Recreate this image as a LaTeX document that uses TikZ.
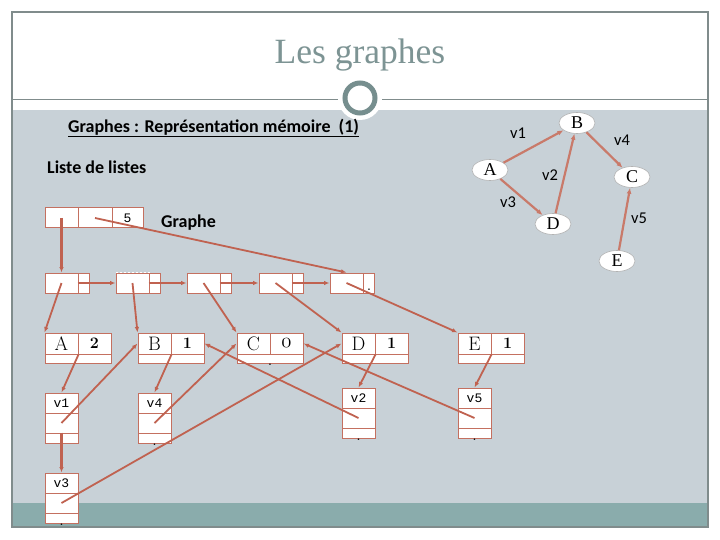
\documentclass[tikz,border=0pt]{standalone}
\usepackage{fontspec}
\newfontfamily\calib{Carlito}
\newfontfamily\tms{Liberation Serif}
\newfontfamily\cour{Liberation Mono}
\usetikzlibrary{arrows.meta,shapes.geometric}
\definecolor{bg}{RGB}{200,209,215}
\definecolor{band}{RGB}{138,172,172}
\definecolor{frm}{RGB}{128,140,140}
\definecolor{ttl}{RGB}{125,148,148}
\definecolor{ring}{RGB}{118,142,142}
\definecolor{lnk}{RGB}{192,98,80}
\definecolor{bx}{RGB}{196,112,96}
\newcommand{\osn}[1]{\ensuremath{\mathnormal{#1}}}
\newcommand{\dg}[1]{{\bfseries\fontsize{16}{16}\selectfont #1}}
\begin{document}
\begin{tikzpicture}[x=1pt,y=-1pt,
  cell/.style={draw=bx, line width=1pt, fill=white, inner sep=0pt,
    minimum width=33pt, minimum height=20pt, font=\fontsize{19.5}{19.5}\selectfont},
  ecell/.style={cell, font=\cour\fontsize{13}{13}\selectfont},
  dotn/.style={inner sep=0pt, anchor=base, font=\bfseries\fontsize{11}{11}\selectfont},
  conn/.style={draw=lnk, line width=1.8pt, -{Latex[length=5.5pt,width=4.5pt]}},
  vconn/.style={conn, line width=2.2pt},
  gv/.style={ellipse, draw=gray!60, line width=0.6pt, fill=white, inner sep=0pt,
    minimum width=36pt, minimum height=21pt, font=\tms\fontsize{18}{18}\selectfont},
  garr/.style={draw=lnk!85!white, line width=2.2pt, -{Latex[length=6pt,width=5pt]}},
  glab/.style={inner sep=0pt, font=\calib\fontsize{16.5}{16.5}\selectfont},
  hdr/.style={inner sep=0pt, anchor=west, font=\calib\bfseries\fontsize{18}{18}\selectfont}]
\useasboundingbox (0,0) rectangle (720,540);
% background and frame
\fill[white] (0,0) rectangle (720,540);
\fill[bg] (12,110) rectangle (708,503);
\fill[band] (12,503) rectangle (708,527);
\draw[frm, line width=1.2pt] (12,12) rectangle (708,527);
\draw[frm, line width=1pt] (12,100) -- (708,100);
\fill[white] (360,98) circle (22);
\fill[white] (360,98) circle (14);
\draw[ring, line width=5pt] (360,98) circle (15);
\node[font=\tms\fontsize{35.5}{35.5}\selectfont, text=ttl, inner sep=0pt] (title) at (360,55) {Les graphes};
% headers
\node[hdr] (h1) at (68,128) {\underline{Graphes : Représentation mémoire\ \ (1)}};
\node[hdr] (h2) at (47,167) {Liste de listes};
\node[hdr] (h3) at (161,223) {Graphe};
% graph
\node[gv] (gB) at (577,123) {B};
\node[gv] (gA) at (490,170) {A};
\node[gv] (gC) at (632,177) {C};
\node[gv] (gD) at (553,224) {D};
\node[gv] (gE) at (617,261) {E};
\draw[garr] (gA) -- (gB);
\draw[garr] (gD) -- (gB);
\draw[garr] (gA) -- (gD);
\draw[garr] (gB) -- (gC);
\draw[garr] (gE) -- (gC);
\node[glab] at (518,133) {v1};
\node[glab] at (550,175) {v2};
\node[glab] at (508,202) {v3};
\node[glab] at (622,140) {v4};
\node[glab] at (639,218) {v5};
% top box
\node[cell] (g1) at (61.5,218) {};
\node[cell, minimum width=34pt] (g2) at (95,218) {};
\node[cell, minimum width=31pt, font=\cour\fontsize{13}{13}\selectfont] (g3) at (127.5,218) {5};
% list of vertices
\node[cell] (L1a) at (61.5,283) {};
\node[cell, minimum width=11pt] (L1b) at (83.5,283) {};
\node[cell] (L2a) at (132.5,283) {};
\node[cell, minimum width=11pt] (L2b) at (154.5,283) {};
\draw[white, line width=1pt, dash pattern=on 2pt off 2pt] (L2a.north west) -- (L2a.north east);
\node[cell] (L3a) at (203.5,283) {};
\node[cell, minimum width=11pt] (L3b) at (225.5,283) {};
\node[cell] (L4a) at (275.5,283) {};
\node[cell, minimum width=11pt] (L4b) at (297.5,283) {};
\node[cell] (L5a) at (346.5,283) {};
\node[cell, minimum width=11pt] (L5b) at (368.5,283) {};
\node[dotn] at (369,290) {.};
% vertex records
\node[cell, minimum height=21pt] (Aa) at (61.5,343.5) {A};
\node[cell, minimum height=21pt] (Ab) at (94.5,343.5) {\dg{2}};
\node[cell, minimum width=66pt, minimum height=9pt] (Ac) at (78,358.5) {};
\node[cell, minimum height=21pt] (Ba) at (154.5,343.5) {B};
\node[cell, minimum height=21pt] (Bb) at (187.5,343.5) {\dg{1}};
\node[cell, minimum width=66pt, minimum height=9pt] (Bc) at (171,358.5) {};
\node[cell, minimum height=21pt] (Ca) at (253.5,343.5) {C};
\node[cell, minimum height=21pt] (Cb) at (286.5,343.5) {\osn{0}};
\node[cell, minimum width=66pt, minimum height=9pt] (Cc) at (270,358.5) {};
\node[dotn] at (270,365) {.};
\node[cell, minimum height=21pt] (Da) at (358.5,343.5) {D};
\node[cell, minimum height=21pt] (Db) at (391.5,343.5) {\dg{1}};
\node[cell, minimum width=66pt, minimum height=9pt] (Dc) at (375,358.5) {};
\node[cell, minimum height=21pt] (Ea) at (474.5,343.5) {E};
\node[cell, minimum height=21pt] (Eb) at (507.5,343.5) {\dg{1}};
\node[cell, minimum width=66pt, minimum height=9pt] (Ec) at (491,358.5) {};
% edge records
\node[ecell] (v1a) at (61.5,403) {v1};
\node[ecell] (v1b) at (61.5,423) {};
\node[ecell, minimum height=10pt] (v1c) at (61.5,438) {};
\node[ecell] (v4a) at (154.5,403) {v4};
\node[ecell] (v4b) at (154.5,423) {};
\node[ecell, minimum height=10pt] (v4c) at (154.5,438) {};
\node[dotn] at (154.5,445) {.};
\node[ecell] (v3a) at (61.5,483) {v3};
\node[ecell] (v3b) at (61.5,503) {};
\node[ecell, minimum height=10pt] (v3c) at (61.5,518) {};
\node[dotn] at (61.5,525) {.};
\node[ecell] (v2a) at (358.5,398) {v2};
\node[ecell] (v2b) at (358.5,418) {};
\node[ecell, minimum height=10pt] (v2c) at (358.5,433) {};
\node[dotn] at (358.5,440) {.};
\node[ecell] (v5a) at (474.5,398) {v5};
\node[ecell] (v5b) at (474.5,418) {};
\node[ecell, minimum height=10pt] (v5c) at (474.5,433) {};
\node[dotn] at (474.5,440) {.};
% connectors
\draw[vconn] (g1.center) -- (L1a.north);
\draw[conn] (g2.center) -- (L5a.north);
\draw[conn] (L1b.west) -- (L2a.west);
\draw[conn] (L2b.west) -- (L3a.west);
\draw[conn] (L3b.west) -- (L4a.west);
\draw[conn] (L4b.west) -- (L5a.west);
\draw[conn] (L1a.center) -- (Aa.north west);
\draw[conn] (L2a.center) -- (Ba.north west);
\draw[conn] (L3a.center) -- (Ca.north west);
\draw[conn] (L4a.center) -- (Da.north west);
\draw[conn] (L5a.center) -- (Ea.north west);
\draw[conn] (Aa.south east) -- (v1a.north);
\draw[conn] (Ba.south east) -- (v4a.north);
\draw[conn] (Da.south east) -- (v2a.north);
\draw[conn] (Ea.south east) -- (v5a.north);
\draw[vconn] (v1c.north) -- (v3a.north);
\draw[conn] (v1b.center) -- (Ba.west);
\draw[conn] (v4b.center) -- (Ca.west);
\draw[conn] (v3b.center) -- (Da.west);
\draw[conn] (v2b.center) -- (Bb.east);
\draw[conn] (v5b.center) -- (Cb.east);
\end{tikzpicture}
\end{document}
